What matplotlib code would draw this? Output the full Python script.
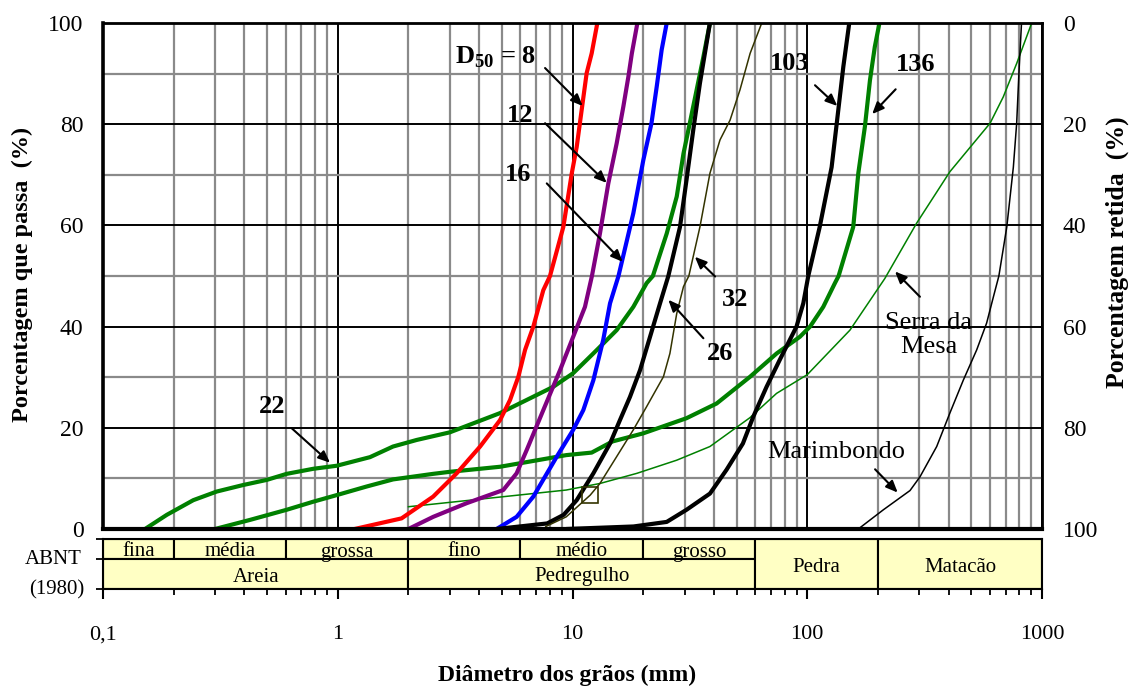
import numpy as np
import matplotlib
matplotlib.use('Agg')
import matplotlib.pyplot as plt
from matplotlib.ticker import FixedLocator, LogLocator, NullFormatter, FixedFormatter
from matplotlib.patches import Rectangle

plt.rcParams['font.family'] = ['Liberation Serif', 'DejaVu Serif']
plt.rcParams['mathtext.fontset'] = 'custom'
plt.rcParams['mathtext.rm'] = 'Liberation Serif'
plt.rcParams['mathtext.bf'] = 'Liberation Serif:bold'

# ---------------- data ----------------
d_08 = [1.18, 1.87, 2.55, 3.21, 4.04, 4.91, 5.42, 5.88, 6.28, 6.81, 7.51, 8.02, 9.14, 9.93, 10.42, 10.94, 11.49, 12.07, 12.76]
p_08 = [0, 2.1, 6.4, 11.0, 16.3, 21.5, 25.5, 30.1, 35.4, 40.0, 47.2, 50.0, 59.7, 70.3, 75.5, 82.8, 90.1, 94.0, 100]

d_12 = [2.0, 2.55, 3.54, 5.07, 5.78, 6.38, 7.51, 8.85, 10.07, 11.3, 12.1, 13.09, 14.21, 15.42, 16.47, 17.3, 17.9, 18.9]
p_12 = [0, 2.4, 5.1, 7.7, 11.0, 15.6, 23.5, 31.4, 38.0, 43.9, 50.0, 58.4, 68.3, 76.2, 83.5, 89.4, 94.0, 100]

d_16 = [4.75, 5.78, 6.81, 8.57, 10.07, 11.12, 12.27, 13.52, 14.45, 15.7, 18.16, 20.03, 21.7, 22.84, 23.98, 25.2]
p_16 = [0, 2.4, 6.4, 14.3, 19.6, 23.5, 29.4, 37.4, 44.6, 50.0, 62.4, 72.9, 80.2, 87.4, 94.7, 100]

d_22 = [0.151, 0.187, 0.2425, 0.305, 0.396, 0.498, 0.606, 0.787, 0.99, 1.372, 1.72, 2.17, 3.0, 4.91, 6.38, 8.28,
        10.07, 12.27, 15.42, 18.16, 20.7, 22.0, 25.2, 27.8, 29.7, 31.6, 33.8, 36.1, 38.5]
p_22 = [0, 2.8, 5.7, 7.4, 8.7, 9.7, 10.9, 11.9, 12.5, 14.2, 16.3, 17.6, 19.1, 22.9, 25.5, 28.1,
        30.8, 34.7, 39.3, 43.9, 48.6, 50.0, 58.4, 65.7, 74.2, 80.2, 86.8, 93.3, 100]

d_26 = [4.75, 7.8, 9.17, 10.42, 12.27, 14.45, 15.92, 17.57, 19.4, 21.4, 23.6, 25.6, 28.7, 30.6, 32.7, 34.9, 38.5]
p_26 = [0, 1.1, 2.8, 5.7, 11.0, 16.9, 21.5, 26.1, 31.4, 38.0, 44.6, 50.0, 59.7, 69.0, 78.9, 88.1, 100]

d_32 = [7.7, 9.4, 11.9, 13.09, 15.42, 18.16, 20.7, 24.4, 26.0, 27.8, 29.7, 31.3, 34.9, 38.5, 42.5, 46.9, 51.7, 57.1, 64.0]
p_32 = [0.5, 2.4, 6.7, 9.0, 14.3, 19.6, 24.2, 30.1, 34.7, 42.6, 47.9, 50.0, 59.7, 70.3, 76.9, 80.8, 86.8, 94.0, 100]

d_103 = [9.4, 18.2, 25.2, 30.6, 38.5, 45.3, 53.2, 58.9, 67.1, 76.5, 90.0, 96.2, 101, 113, 127, 135.6, 142.5, 151]
p_103 = [0, 0.5, 1.4, 3.8, 7.0, 11.7, 16.9, 22.2, 28.1, 33.5, 40.0, 44.6, 50.0, 59.7, 71.5, 82.8, 91.4, 100]

d_136 = [0.3, 0.423, 0.606, 0.787, 0.99, 1.328, 1.72, 2.55, 3.0, 4.91, 7.96, 9.4, 12.07, 14.8, 20.0, 30.6, 41.1,
         57.1, 74.1, 93.1, 102.8, 117, 131.2, 136, 157, 165, 176, 185, 194, 203]
p_136 = [0, 1.8, 3.8, 5.4, 6.7, 8.4, 9.8, 10.9, 11.3, 12.3, 14.0, 14.6, 15.1, 17.3, 18.9, 21.9, 24.8,
         30.1, 34.7, 38.0, 40.0, 43.9, 48.6, 50.0, 59.7, 70.3, 79.5, 88.7, 95.3, 100]

d_serra = [2.0, 9.4, 13.1, 18.8, 27.8, 38.5, 57.0, 74.0, 100, 152, 214, 292, 405, 601, 684, 780, 904]
p_serra = [4.4, 7.7, 9.0, 11.0, 13.6, 16.3, 22.0, 26.8, 30.5, 39.3, 49.5, 60.4, 70.6, 80.2, 85.4, 92.0, 100]

d_marim = [165, 211, 274, 302, 356, 405, 462, 527, 581, 621, 655, 708, 755, 780, 800, 818]
p_marim = [0, 3.8, 7.6, 10.3, 16.3, 22.9, 29.4, 35.4, 40.7, 45.9, 50.0, 59.7, 71.5, 80.2, 91.4, 100]

abnt_sub = ['fina', 'média', 'grossa', 'fino', 'médio', 'grosso']
abnt_sub_bounds = [0.1, 0.2, 0.6, 2, 6, 20, 60]
abnt_main = ['Areia', 'Pedregulho']
abnt_main_bounds = [0.1, 2, 60]
abnt_big = ['Pedra', 'Matacão']
abnt_big_bounds = [60, 200, 1000]

x_ticks = [0.1, 1, 10, 100, 1000]
x_ticklabels = ['0,1', '1', '10', '100', '1000']
y_ticks = [0, 20, 40, 60, 80, 100]

# ---------------- figure ----------------
W, H = 1131, 686
fig = plt.figure(figsize=(W / 100, H / 100), dpi=100)


def rect(l, t, r, b):
    return [l / W, 1 - b / H, (r - l) / W, (b - t) / H]


ax = fig.add_axes(rect(103, 23, 1042, 529))
ax.set_xscale('log')
ax.set_xlim(0.1, 1000)
ax.set_ylim(0, 100)
ax.xaxis.set_major_locator(FixedLocator(x_ticks))
ax.xaxis.set_minor_locator(LogLocator(base=10, subs=np.arange(2, 10), numticks=30))
ax.xaxis.set_major_formatter(NullFormatter())
ax.xaxis.set_minor_formatter(NullFormatter())
ax.yaxis.set_major_locator(FixedLocator(y_ticks))
ax.yaxis.set_minor_locator(FixedLocator([10, 30, 50, 70, 90]))
ax.set_axisbelow(True)
ax.grid(True, which='minor', color='#8a8a8a', lw=1.6)
ax.grid(True, which='major', color='black', lw=1.4)
ax.tick_params(axis='x', which='both', length=0)
ax.tick_params(axis='y', which='both', length=0, labelsize=17, pad=14)
for s, lw in [('left', 2.6), ('bottom', 3.0), ('top', 2.0), ('right', 2.0)]:
    ax.spines[s].set_linewidth(lw)
    ax.spines[s].set_color('black')

ax2 = ax.twinx()
ax2.set_ylim(100, 0)
ax2.yaxis.set_major_locator(FixedLocator(y_ticks))
ax2.tick_params(axis='y', length=0, labelsize=17, pad=15)

thick = 3.0
thin = 1.1
ax.plot(d_22, p_22, color='#008000', lw=thick, solid_capstyle='butt')
ax.plot(d_136, p_136, color='#008000', lw=thick, solid_capstyle='butt')
ax.plot(d_serra, p_serra, color='#008000', lw=thin)
ax.plot(d_08, p_08, color='#ff0000', lw=thick, solid_capstyle='butt')
ax.plot(d_12, p_12, color='#800080', lw=thick, solid_capstyle='butt')
ax.plot(d_16, p_16, color='#0000ff', lw=thick, solid_capstyle='butt')
ax.plot(d_26, p_26, color='black', lw=thick, solid_capstyle='butt')
ax.plot(d_32, p_32, color='#333300', lw=thin, marker='s', markevery=[2], ms=12,
        mfc='none', mec='#333300', mew=1.2)
ax.plot(d_103, p_103, color='black', lw=thick, solid_capstyle='butt')
ax.plot(d_marim, p_marim, color='black', lw=thin)

# annotations
arrow = dict(arrowstyle='-|>,head_length=0.7,head_width=0.3', color='black', lw=1.5,
             shrinkA=0, shrinkB=0)
arrows = [
    ((7.64, 91.1), (11.05, 83.6)),
    ((7.64, 80.2), (13.99, 68.4)),
    ((7.77, 68.3), (16.36, 52.8)),
    ((0.637, 19.9), (0.927, 13.1)),
    ((36.1, 37.7), (25.6, 45.3)),
    ((40.5, 49.9), (33.2, 53.8)),
    ((107.9, 87.7), (134.3, 83.6)),
    ((238, 86.9), (189, 82.0)),
    ((302, 45.9), (236.5, 50.9)),
    ((194.5, 11.8), (242.8, 7.2)),
]
for tail, head in arrows:
    ax.annotate('', xy=head, xytext=tail, arrowprops=arrow)

bold_labels = [
    (4.68, 93.3, r'D$_{\mathbf{50}}$ = 8'),
    (5.97, 81.8, '12'),
    (5.88, 70.0, '16'),
    (0.523, 24.2, '22'),
    (42.5, 34.7, '26'),
    (49.2, 45.3, '32'),
    (84.5, 92.0, '103'),
    (289.7, 91.7, '136'),
]
for x, y, s in bold_labels:
    ax.text(x, y, s, ha='center', va='center', fontsize=19, fontweight='bold')
ax.text(329.6, 38.3, 'Serra da\nMesa', ha='center', va='center', fontsize=19, linespacing=1.1)
ax.text(132.6, 15.3, 'Marimbondo', ha='center', va='center', fontsize=19)

# axis titles
fig.text(22 / W, 1 - 274 / H, 'Porcentagem que passa  (%)', rotation=90, ha='center', va='center',
         fontsize=17.5, fontweight='bold')
fig.text(1117 / W, 1 - 252 / H, 'Porcentagem retida  (%)', rotation=90, ha='center', va='center',
         fontsize=18.5, fontweight='bold')
fig.text(567 / W, 1 - 675 / H, 'Diâmetro dos grãos (mm)', ha='center', va='center',
         fontsize=17, fontweight='bold')

# ---------------- ABNT table ----------------
tax = fig.add_axes(rect(103, 539, 1042, 589))
tax.set_xscale('log')
tax.set_xlim(0.1, 1000)
tax.set_ylim(0, 1)
fill = '#ffffc4'
split = 0.6
for i, name in enumerate(abnt_sub):
    x0, x1 = abnt_sub_bounds[i], abnt_sub_bounds[i + 1]
    tax.add_patch(Rectangle((x0, split), x1 - x0, 1 - split, facecolor=fill, edgecolor='black', lw=1.5))
    tax.text(np.sqrt(x0 * x1), 0.74, name, ha='center', va='center', fontsize=15)
for i, name in enumerate(abnt_main):
    x0, x1 = abnt_main_bounds[i], abnt_main_bounds[i + 1]
    tax.add_patch(Rectangle((x0, 0), x1 - x0, split, facecolor=fill, edgecolor='black', lw=1.5))
    tax.text(np.sqrt(x0 * x1), 0.24, name, ha='center', va='center', fontsize=15)
for i, name in enumerate(abnt_big):
    x0, x1 = abnt_big_bounds[i], abnt_big_bounds[i + 1]
    tax.add_patch(Rectangle((x0, 0), x1 - x0, 1, facecolor=fill, edgecolor='black', lw=1.5))
    tax.text(np.sqrt(x0 * x1), 0.44, name, ha='center', va='center', fontsize=15)

tax.xaxis.set_major_locator(FixedLocator(x_ticks))
tax.xaxis.set_major_formatter(FixedFormatter(x_ticklabels))
tax.xaxis.set_minor_locator(LogLocator(base=10, subs=np.arange(2, 10), numticks=30))
tax.xaxis.set_minor_formatter(NullFormatter())
tax.tick_params(axis='x', which='major', direction='out', length=7, width=1.5, labelsize=16, pad=19)
tax.tick_params(axis='x', which='minor', direction='out', length=4, width=1.3)
tax.yaxis.set_major_locator(FixedLocator([0, split, 1]))
tax.yaxis.set_major_formatter(NullFormatter())
tax.tick_params(axis='y', direction='out', length=5, width=1.3)
for s in tax.spines.values():
    s.set_linewidth(1.5)

fig.text(82 / W, 1 - 560 / H, 'ABNT', ha='right', va='center', fontsize=15)
fig.text(84 / W, 1 - 590 / H, '(1980)', ha='right', va='center', fontsize=15)

fig.savefig('out.png', dpi=100)
